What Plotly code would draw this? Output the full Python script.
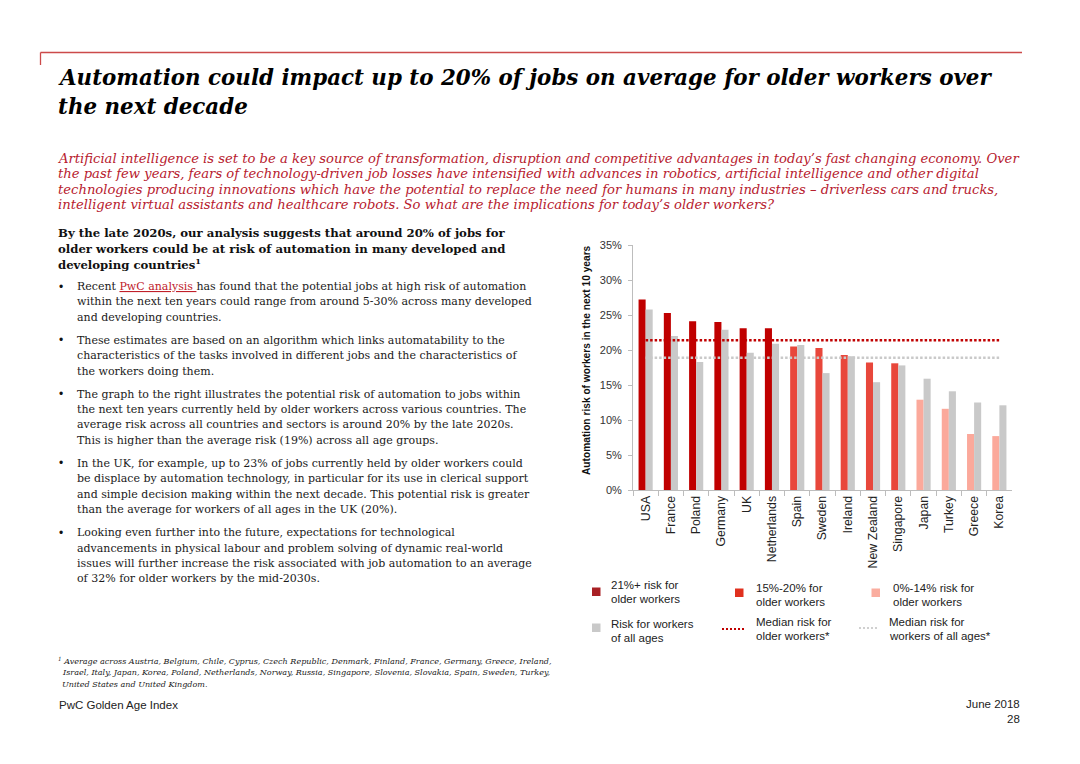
import plotly.graph_objects as go

# ---------------- data ----------------
countries = ["USA", "France", "Poland", "Germany", "UK", "Netherlands", "Spain", "Sweden",
             "Ireland", "New Zealand", "Singapore", "Japan", "Turkey", "Greece", "Korea"]
older_risk = [27.2, 25.3, 24.1, 24.0, 23.1, 23.1, 20.5, 20.3, 19.3, 18.2, 18.1, 12.9, 11.6, 8.0, 7.7]
all_ages_risk = [25.8, 22.0, 18.3, 22.9, 19.6, 20.9, 20.7, 16.7, 19.1, 15.4, 17.8, 15.9, 14.1, 12.5, 12.1]
median_older = 21.4
median_all_ages = 18.9
y_tick_values = [0, 5, 10, 15, 20, 25, 30, 35]
y_tick_labels = [f"{v}%" for v in y_tick_values]

# ---------------- style ----------------
OFF = 8                      # page body margin of the html page
W, H = 1080 - OFF, 764 - OFF
DARK, MID, LIGHT, GRAY = "#C00000", "#E8473B", "#FBA99B", "#C9C9C9"
SERIF = "DejaVu Serif, Liberation Serif, serif"
SANS = "Liberation Sans, Arial, sans-serif"
RED_TXT = "#B7202E"


def X(px):
    return (px - OFF) / W


def Y(py):
    return 1 - (py - OFF) / H


def tier_color(v):
    if v >= 21:
        return DARK
    if v >= 15:
        return MID
    return LIGHT


older_colors = [tier_color(v) for v in older_risk]

fig = go.Figure()
fig.add_bar(x=countries, y=older_risk, marker=dict(color=older_colors, line=dict(width=0)),
            name="Older workers")
fig.add_bar(x=countries, y=all_ages_risk, marker=dict(color=GRAY, line=dict(width=0)),
            name="Workers of all ages")
fig.add_scatter(x=[countries[0], countries[-1]], y=[median_older] * 2, mode="lines",
                line=dict(color=DARK, width=2.5, dash="2.5px,2px"), name="Median older")
fig.add_scatter(x=[countries[0], countries[-1]], y=[median_all_ages] * 2, mode="lines",
                line=dict(color=GRAY, width=2.5, dash="2.5px,2px"), name="Median all")

fig.update_layout(
    template="none",
    width=W, height=H,
    margin=dict(l=0, r=0, t=0, b=0),
    paper_bgcolor="white", plot_bgcolor="white",
    showlegend=False,
    barmode="group", bargap=0.44, bargroupgap=0,
    xaxis=dict(domain=[X(633), X(1012)], type="category", tickangle=-90,
               tickfont=dict(family=SANS, size=12.3, color="#222"),
               showline=True, linecolor="#BDBDBD", linewidth=1,
               ticks="outside", tickson="boundaries", ticklen=5, tickcolor="#BDBDBD",
               showgrid=False, zeroline=False, automargin=False),
    yaxis=dict(domain=[Y(490), Y(245)], range=[0, 35], tickmode="array",
               tickvals=y_tick_values, ticktext=y_tick_labels,
               tickfont=dict(family=SANS, size=11, color="#333"),
               showline=True, linecolor="#BDBDBD", linewidth=1,
               ticks="outside", ticklen=4, tickcolor="#BDBDBD", ticklabelstandoff=4,
               showgrid=False, zeroline=False, automargin=False),
)

ann = []


def txt(x, y, text, size, family=SERIF, color="#1a1a1a", xanchor="left", angle=0):
    ann.append(dict(x=X(x), y=Y(y), xref="paper", yref="paper", text=text, showarrow=False,
                    xanchor=xanchor, yanchor="middle", textangle=angle,
                    font=dict(family=family, size=size, color=color)))


# y-axis title
txt(586, 360, "<b>Automation risk of workers in the next 10 years</b>", 10.2, SANS, "#111",
    xanchor="center", angle=-90)

# title
title_lines = ["Automation could impact up to 20% of jobs on average for older workers over",
               "the next decade"]
for yy, line in zip([78, 106], title_lines):
    txt(56, yy, "<b><i>" + line + "</i></b>", 21.4, SERIF, "#000")

# subtitle
sub_lines = [
    "Artificial intelligence is set to be a key source of transformation, disruption and competitive advantages in today’s fast changing economy. Over",
    "the past few years, fears of technology-driven job losses have intensified with advances in robotics, artificial intelligence and other digital",
    "technologies producing innovations which have the potential to replace the need for humans in many industries – driverless cars and trucks,",
    "intelligent virtual assistants and healthcare robots. So what are the implications for today’s older workers?",
]
for yy, line in zip([158.5, 173.8, 189, 204.2], sub_lines):
    txt(56, yy, "<i>" + line + "</i>", 13.15, SERIF, RED_TXT)

# bold heading
head_lines = ["By the late 2020s, our analysis suggests that around 20% of jobs for",
              "older workers could be at risk of automation in many developed and",
              "developing countries<sup>1</sup>"]
for yy, line in zip([233.3, 248.5, 263.7], head_lines):
    txt(56, yy, "<b>" + line + "</b>", 11.7, SERIF, "#111")

bullets = [
    ([286.7, 301.9, 317.2], [
        "Recent <span style='color:#C0202A'><u>PwC analysis </u></span>has found that the potential jobs at high risk of automation",
        "within the next ten years could range from around 5-30% across many developed",
        "and developing countries."]),
    ([340.2, 355.6, 371.0], [
        "These estimates are based on an algorithm which links automatability to the",
        "characteristics of the tasks involved in different jobs and the characteristics of",
        "the workers doing them."]),
    ([394.0, 409.4, 424.8, 440.2], [
        "The graph to the right illustrates the potential risk of automation to jobs within",
        "the next ten years currently held by older workers across various countries. The",
        "average risk across all countries and sectors is around 20% by the late 2020s.",
        "This is higher than the average risk (19%) across all age groups."]),
    ([463.3, 478.7, 494.0, 509.4], [
        "In the UK, for example, up to 23% of jobs currently held by older workers could",
        "be displace by automation technology, in particular for its use in clerical support",
        "and simple decision making within the next decade. This potential risk is greater",
        "than the average for workers of all ages in the UK (20%)."]),
    ([532.7, 548.0, 563.4, 578.7], [
        "Looking even further into the future, expectations for technological",
        "advancements in physical labour and problem solving of dynamic real-world",
        "issues will further increase the risk associated with job automation to an average",
        "of 32% for older workers by the mid-2030s."]),
]
for ys, lines in bullets:
    txt(57, ys[0], "•", 12, SANS, "#111")
    for yy, line in zip(ys, lines):
        txt(75, yy, line, 11, SERIF, "#1a1a1a")

# footnote
foot_lines = [
    "<sup>1</sup> Average across Austria, Belgium, Chile, Cyprus, Czech Republic, Denmark, Finland, France, Germany, Greece, Ireland,",
    "Israel, Italy, Japan, Korea, Poland, Netherlands, Norway, Russia, Singapore, Slovenia, Slovakia, Spain, Sweden, Turkey,",
    "United States and United Kingdom.",
]
for i, (yy, line) in enumerate(zip([661, 672.5, 684], foot_lines)):
    txt(56 if i == 0 else 60, yy, "<i>" + line + "</i>", 8.05, SERIF, "#222")

txt(57, 705, "PwC Golden Age Index", 11.5, SANS, "#222")
txt(1022, 704, "June 2018", 11.5, SANS, "#222", xanchor="right")
txt(1022, 719, "28", 11.5, SANS, "#222", xanchor="right")

# legend texts
legend_items = [
    (609, [585, 599], ["21%+ risk for", "older workers"]),
    (754, [587.5, 601.5], ["15%-20% for", "older workers"]),
    (891, [588, 602], ["0%-14% risk for", "older workers"]),
    (609, [623.5, 638], ["Risk for workers", "of all ages"]),
    (754, [622, 636], ["Median risk for", "older workers*"]),
    (887, [621.5, 635.5], ["Median risk for", "workers of all ages*"]),
]
for x0, ys, lines in legend_items:
    for yy, line in zip(ys, lines):
        txt(x0, yy, line, 11.5, SANS, "#222")

fig.update_layout(annotations=ann)

shapes = []
# header rule
shapes.append(dict(type="line", xref="paper", yref="paper", x0=X(40.5), x1=X(1022), y0=Y(52.5), y1=Y(52.5),
                   line=dict(color="#CC4A4A", width=1.3)))
shapes.append(dict(type="line", xref="paper", yref="paper", x0=X(40.5), x1=X(40.5), y0=Y(52.5), y1=Y(65),
                   line=dict(color="#CC4A4A", width=1.3)))
# legend swatches
for (x0, y0, col) in [(592, 587.5, "#A82024"), (735, 588.5, "#E0301E"), (871.5, 588.5, "#FAAD9F"),
                      (592, 623.5, "#C9C9C9")]:
    shapes.append(dict(type="rect", xref="paper", yref="paper", x0=X(x0), x1=X(x0 + 8.5),
                       y0=Y(y0), y1=Y(y0 + 8.5), fillcolor=col, line=dict(width=0)))
shapes.append(dict(type="line", xref="paper", yref="paper", x0=X(722), x1=X(744), y0=Y(629), y1=Y(629),
                   line=dict(color=DARK, width=2, dash="2px,2px")))
shapes.append(dict(type="line", xref="paper", yref="paper", x0=X(859), x1=X(878), y0=Y(628), y1=Y(628),
                   line=dict(color="#D0D0D0", width=2, dash="2px,2px")))
fig.update_layout(shapes=shapes)

fig.write_html("out.html")
